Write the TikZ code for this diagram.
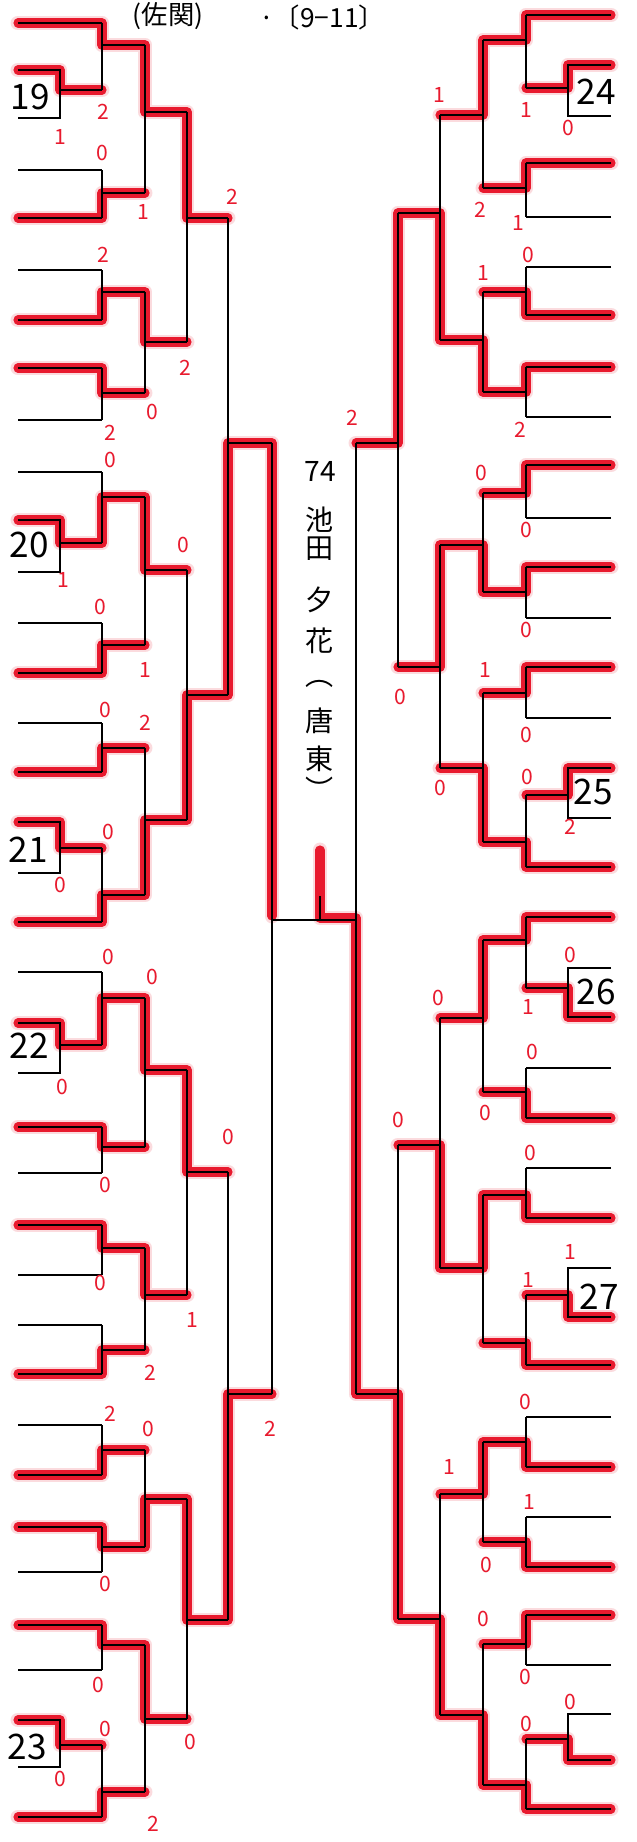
\documentclass[tikz,border=0pt]{standalone}
\usepackage{fontspec}
\newfontfamily\jpfont{Noto Sans CJK JP}
\definecolor{marker}{RGB}{232,26,46}

\begin{document}
\begin{tikzpicture}[
  x=0.02cm, y=-0.02cm,
  bline/.style={black, line width=1.1pt},
  winpath/.style={preaction={draw, marker!55, line width=8.5pt, opacity=.28,
                             line join=round, line cap=round},
                  draw, marker, line width=5.2pt, line join=round, line cap=round},
  score/.style={font=\jpfont\fontsize{12}{12}\selectfont, text=marker, inner sep=0pt},
  seed/.style={font=\jpfont\fontsize{20}{20}\selectfont, inner sep=0pt},
  champname/.style={font=\jpfont\fontsize{16}{16}\selectfont, inner sep=0pt},
  title/.style={font=\jpfont\fontsize{15}{15}\selectfont, inner sep=0pt, anchor=south},
]

  % columns, left half (leaf end, seed joint, rounds 1-5)
  \def\lA{18}  \def\lB{60}  \def\lC{102} \def\lD{145}
  \def\lE{187} \def\lF{228} \def\lG{272}
  % columns, right half
  \def\rA{611} \def\rB{568} \def\rC{526} \def\rD{483}
  \def\rE{440} \def\rF{398} \def\rG{356}

  \useasboundingbox (0,0) rectangle (636,1842);
  \fill[white] (0,0) rectangle (636,1842);

  % Heading

  \node[title] (titleA) at (168,30) {(佐関)};
  \node[title] (titleB) at (322,30) {·〔9−11〕};

  % Winner marks (under the lines)

  % left half
  \draw[winpath] (\lA,23) -- (\lC,23) -- (\lC,45) -- (\lD,45) -- (\lD,112) -- (\lE,112) -- (\lE,218) -- (\lF,218);
  \draw[winpath] (\lA,70) -- (\lB,70) -- (\lB,90) -- (\lC,90);
  \draw[winpath] (\lA,218) -- (\lC,218) -- (\lC,193) -- (\lD,193);
  \draw[winpath] (\lA,320) -- (\lC,320) -- (\lC,292) -- (\lD,292) -- (\lD,342) -- (\lE,342);
  \draw[winpath] (\lA,368) -- (\lC,368) -- (\lC,393) -- (\lD,393);
  \draw[winpath] (\lA,520) -- (\lB,520) -- (\lB,543) -- (\lC,543) -- (\lC,497) -- (\lD,497) -- (\lD,570) -- (\lE,570);
  \draw[winpath] (\lA,673) -- (\lC,673) -- (\lC,645) -- (\lD,645);
  \draw[winpath] (\lA,772) -- (\lC,772) -- (\lC,748) -- (\lD,748);
  \draw[winpath] (\lA,822) -- (\lB,822) -- (\lB,848) -- (\lC,848);
  \draw[winpath] (\lA,922) -- (\lC,922) -- (\lC,895) -- (\lD,895) -- (\lD,820) -- (\lE,820)
                 -- (\lE,695) -- (\lF,695) -- (\lF,443) -- (\lG,443) -- (\lG,916);
  \draw[winpath] (\lA,1023) -- (\lB,1023) -- (\lB,1045) -- (\lC,1045) -- (\lC,998) -- (\lD,998)
                 -- (\lD,1070) -- (\lE,1070) -- (\lE,1172) -- (\lF,1172);
  \draw[winpath] (\lA,1127) -- (\lC,1127) -- (\lC,1147) -- (\lD,1147);
  \draw[winpath] (\lA,1225) -- (\lC,1225) -- (\lC,1248) -- (\lD,1248) -- (\lD,1295) -- (\lE,1295);
  \draw[winpath] (\lA,1374) -- (\lC,1374) -- (\lC,1350) -- (\lD,1350);
  \draw[winpath] (\lA,1475) -- (\lC,1475) -- (\lC,1450) -- (\lD,1450);
  \draw[winpath] (\lA,1527) -- (\lC,1527) -- (\lC,1547) -- (\lD,1547) -- (\lD,1499) -- (\lE,1499)
                 -- (\lE,1620) -- (\lF,1620) -- (\lF,1394) -- (\lG,1394);
  \draw[winpath] (\lA,1625) -- (\lC,1625) -- (\lC,1645) -- (\lD,1645) -- (\lD,1719) -- (\lE,1719);
  \draw[winpath] (\lA,1720) -- (\lB,1720) -- (\lB,1745) -- (\lC,1745);
  \draw[winpath] (\lA,1817) -- (\lC,1817) -- (\lC,1792) -- (\lD,1792);

  % right half
  \draw[winpath] (\rA,15) -- (\rC,15) -- (\rC,40) -- (\rD,40) -- (\rD,115) -- (\rE,115);
  \draw[winpath] (\rA,65) -- (\rB,65) -- (\rB,88) -- (\rC,88);
  \draw[winpath] (\rA,163) -- (\rC,163) -- (\rC,188) -- (\rD,188);
  \draw[winpath] (\rA,315) -- (\rC,315) -- (\rC,292) -- (\rD,292);
  \draw[winpath] (\rA,367) -- (\rC,367) -- (\rC,392) -- (\rD,392) -- (\rD,340) -- (\rE,340)
                 -- (\rE,213) -- (\rF,213) -- (\rF,443) -- (\rG,443);
  \draw[winpath] (\rA,465) -- (\rC,465) -- (\rC,493) -- (\rD,493);
  \draw[winpath] (\rA,567) -- (\rC,567) -- (\rC,592) -- (\rD,592) -- (\rD,545) -- (\rE,545)
                 -- (\rE,667) -- (\rF,667);
  \draw[winpath] (\rA,667) -- (\rC,667) -- (\rC,693) -- (\rD,693);
  \draw[winpath] (\rA,768) -- (\rB,768) -- (\rB,795) -- (\rC,795);
  \draw[winpath] (\rA,867) -- (\rC,867) -- (\rC,842) -- (\rD,842) -- (\rD,768) -- (\rE,768);
  \draw[winpath] (\rA,917) -- (\rC,917) -- (\rC,940) -- (\rD,940) -- (\rD,1018) -- (\rE,1018);
  \draw[winpath] (\rA,1017) -- (\rB,1017) -- (\rB,988) -- (\rC,988);
  \draw[winpath] (\rA,1118) -- (\rC,1118) -- (\rC,1092) -- (\rD,1092);
  \draw[winpath] (\rA,1218) -- (\rC,1218) -- (\rC,1195) -- (\rD,1195) -- (\rD,1268) -- (\rE,1268)
                 -- (\rE,1145) -- (\rF,1145);
  \draw[winpath] (\rA,1317) -- (\rB,1317) -- (\rB,1295) -- (\rC,1295);
  \draw[winpath] (\rA,1365) -- (\rC,1365) -- (\rC,1343) -- (\rD,1343);
  \draw[winpath] (\rA,1467) -- (\rC,1467) -- (\rC,1442) -- (\rD,1442) -- (\rD,1494) -- (\rE,1494);
  \draw[winpath] (\rA,1567) -- (\rC,1567) -- (\rC,1542) -- (\rD,1542);
  \draw[winpath] (\rA,1615) -- (\rC,1615) -- (\rC,1644) -- (\rD,1644);
  \draw[winpath] (\rA,1760) -- (\rB,1760) -- (\rB,1739) -- (\rC,1739);
  % champion
  \draw[winpath] (\rA,1809) -- (\rC,1809) -- (\rC,1785) -- (\rD,1785) -- (\rD,1715) -- (\rE,1715)
                 -- (\rE,1619) -- (\rF,1619) -- (\rF,1394) -- (\rG,1394) -- (\rG,918)
                 -- (320,918) -- (320,850);

  % Bracket lines — left half

  \foreach \y in {23,170,218,270,320,368,420,472,623,673,723,772,922,972,1127,1173,
                  1225,1275,1325,1374,1425,1475,1527,1572,1625,1670,1817}
    \draw[bline] (\lA,\y) -- (\lC,\y);
  \foreach \ya/\yb/\yo in {70/118/90,520/572/543,822/873/848,1023/1073/1045,1720/1767/1745}
    \draw[bline] (\lA,\ya) -- (\lB,\ya) -- (\lB,\yb) -- (\lA,\yb) (\lB,\yo) -- (\lC,\yo);
  \foreach \ya/\yb/\yo in {23/90/45,170/218/193,270/320/292,368/420/393,472/543/497,
                           623/673/645,723/772/748,848/922/895,972/1045/998,1127/1173/1147,
                           1225/1275/1248,1325/1374/1350,1425/1475/1450,1527/1572/1547,
                           1625/1670/1645,1745/1817/1792}
    \draw[bline] (\lC,\ya) -- (\lC,\yb) (\lC,\yo) -- (\lD,\yo);
  \foreach \ya/\yb/\yo in {45/193/112,292/393/342,497/645/570,748/895/820,998/1147/1070,
                           1248/1350/1295,1450/1547/1499,1645/1792/1719}
    \draw[bline] (\lD,\ya) -- (\lD,\yb) (\lD,\yo) -- (\lE,\yo);
  \foreach \ya/\yb/\yo in {112/342/218,570/820/695,1070/1295/1172,1499/1719/1620}
    \draw[bline] (\lE,\ya) -- (\lE,\yb) (\lE,\yo) -- (\lF,\yo);
  \foreach \ya/\yb/\yo in {218/695/443,1172/1620/1394}
    \draw[bline] (\lF,\ya) -- (\lF,\yb) (\lF,\yo) -- (\lG,\yo);
  \draw[bline] (\lG,443) -- (\lG,1394);

  % Bracket lines — right half

  \foreach \y in {15,163,217,267,315,367,417,465,518,567,618,667,718,867,917,1068,1118,
                  1168,1218,1365,1417,1467,1517,1567,1615,1665,1809}
    \draw[bline] (\rA,\y) -- (\rC,\y);
  \foreach \ya/\yb/\yo in {65/116/88,768/818/795,968/1017/988,1268/1317/1295,1714/1760/1739}
    \draw[bline] (\rA,\ya) -- (\rB,\ya) -- (\rB,\yb) -- (\rA,\yb) (\rB,\yo) -- (\rC,\yo);
  \foreach \ya/\yb/\yo in {15/88/40,163/217/188,267/315/292,367/417/392,465/518/493,
                           567/618/592,667/718/693,795/867/842,917/988/940,1068/1118/1092,
                           1168/1218/1195,1295/1365/1343,1417/1467/1442,1517/1567/1542,
                           1615/1665/1644,1739/1809/1785}
    \draw[bline] (\rC,\ya) -- (\rC,\yb) (\rC,\yo) -- (\rD,\yo);
  \foreach \ya/\yb/\yo in {40/188/115,292/392/340,493/592/545,693/842/768,940/1092/1018,
                           1195/1343/1268,1442/1542/1494,1644/1785/1715}
    \draw[bline] (\rD,\ya) -- (\rD,\yb) (\rD,\yo) -- (\rE,\yo);
  \foreach \ya/\yb/\yo in {115/340/213,545/768/667,1018/1268/1145,1494/1715/1619}
    \draw[bline] (\rE,\ya) -- (\rE,\yb) (\rE,\yo) -- (\rF,\yo);
  \foreach \ya/\yb/\yo in {213/667/443,1145/1619/1394}
    \draw[bline] (\rF,\ya) -- (\rF,\yb) (\rF,\yo) -- (\rG,\yo);
  \draw[bline] (\rG,443) -- (\rG,1394);

  % final
  \draw[bline] (\lG,920) -- (\rG,920);
  \draw[bline] (320,920) -- (320,896);

  % Seed numbers

  \foreach \x/\y/\t in {30/97/19,29/545/20,28/850/21,29/1046/22,27/1747/23,
                        596/92/24,593/792/25,596/992/26,599/1297/27}
    \node[seed] (seed\t) at (\x,\y) {\t};

  % Champion

  \foreach \c/\y [count=\i] in {74/471,池/520,田/549,夕/600,花/641,︵/684,唐/721,東/759,︶/789}
    \node[champname] (champ\i) at (320,\y) {\c};

  % Scores

  \foreach \x/\y/\t [count=\i] in {
      103/112/2, 60/137/1, 102/153/0, 143/212/1, 232/197/2, 103/255/2, 185/368/2,
      152/412/0, 110/433/2, 110/460/0, 63/580/1, 183/545/0, 100/607/0, 145/670/1,
      105/710/0, 145/723/2, 108/832/0, 60/885/0, 108/957/0, 152/977/0, 62/1087/0,
      105/1185/0, 228/1137/0, 100/1283/0, 192/1320/1, 150/1373/2, 270/1429/2,
      110/1414/2, 148/1429/0, 105/1584/0, 98/1685/0, 105/1729/0, 60/1779/0,
      190/1742/0, 153/1824/2,
      526/110/1, 568/128/0, 439/95/1, 518/223/1, 480/210/2, 528/255/0, 483/273/1,
      520/430/2, 352/418/2, 481/473/0, 526/530/0, 526/630/0, 485/670/1, 526/735/0,
      527/777/0, 570/827/2, 440/788/0, 400/697/0, 570/955/0, 528/1007/1, 532/1052/0,
      438/998/0, 485/1113/0, 530/1153/0, 570/1252/1, 528/1280/1, 398/1120/0,
      525/1402/0, 529/1502/1, 449/1467/1, 486/1565/0, 483/1619/0, 525/1677/0,
      570/1702/0, 526/1724/0}
    \node[score] (sc\i) at (\x,\y) {\t};

\end{tikzpicture}
\end{document}
